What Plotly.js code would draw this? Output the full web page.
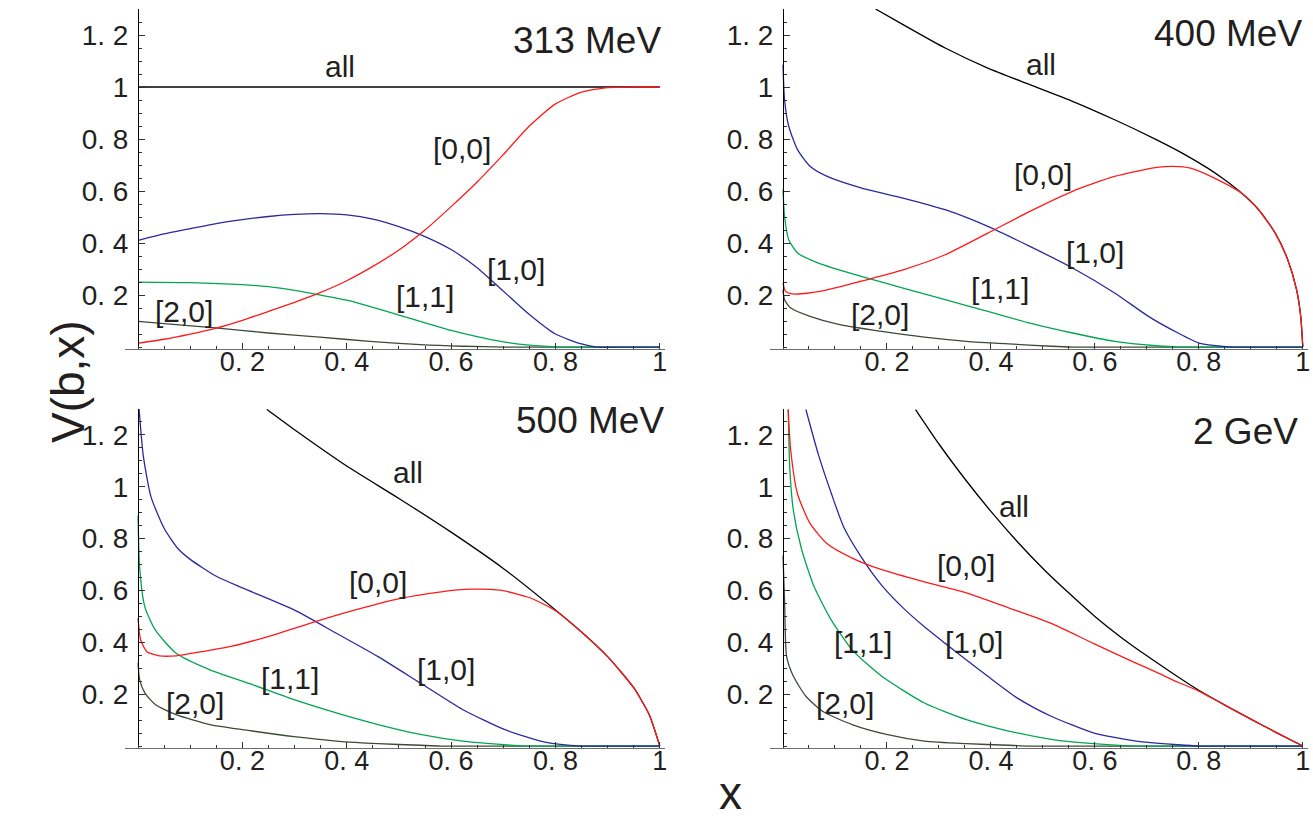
<!DOCTYPE html>
<html>
<head>
<meta charset="utf-8">
<script src="https://cdn.plot.ly/plotly-3.0.1.min.js"></script>
<style>html,body{margin:0;padding:0;background:#fff;}#chart{width:1313px;height:820px;}</style>
</head>
<body>
<div id="chart"></div>
<script>
// ---------- data ----------
// Panel 1: 313 MeV
const x313_all = [0, 0.25, 0.5, 0.75, 1];
const y313_all = [1, 1, 1, 1, 1];
const x313_00 = [0, 0.05, 0.1, 0.15, 0.2, 0.25, 0.3, 0.35, 0.4, 0.45, 0.5, 0.55, 0.6, 0.65, 0.7, 0.75, 0.8, 0.85, 0.9, 0.95, 1];
const y313_00 = [0.015, 0.03, 0.05, 0.073, 0.103, 0.137, 0.172, 0.21, 0.255, 0.31, 0.373, 0.45, 0.54, 0.635, 0.74, 0.85, 0.935, 0.98, 0.998, 1.0, 1.0];
const x313_10 = [0, 0.05, 0.1, 0.15, 0.2, 0.25, 0.3, 0.35, 0.4, 0.45, 0.5, 0.55, 0.6, 0.65, 0.7, 0.75, 0.8, 0.85, 0.88, 0.94, 1];
const y313_10 = [0.41, 0.435, 0.455, 0.475, 0.49, 0.502, 0.51, 0.513, 0.508, 0.492, 0.463, 0.425, 0.375, 0.305, 0.215, 0.125, 0.05, 0.012, 0, 0, 0];
const x313_11 = [0, 0.1, 0.2, 0.25, 0.3, 0.35, 0.4, 0.45, 0.5, 0.55, 0.6, 0.65, 0.7, 0.75, 0.8, 0.82, 0.9, 1];
const y313_11 = [0.25, 0.248, 0.24, 0.232, 0.218, 0.2, 0.18, 0.153, 0.123, 0.093, 0.064, 0.04, 0.02, 0.007, 0.001, 0, 0, 0];
const x313_20 = [0, 0.073, 0.154, 0.25, 0.348, 0.444, 0.541, 0.622, 0.702, 0.85, 1];
const y313_20 = [0.099, 0.086, 0.073, 0.054, 0.038, 0.022, 0.009, 0.003, 0, 0, 0];

// Panel 2: 400 MeV
const x400_all = [0.178, 0.231, 0.312, 0.394, 0.475, 0.557, 0.638, 0.719, 0.768, 0.817, 0.849, 0.882, 0.915, 0.947, 0.971, 0.988, 0.996, 1];
const y400_all = [1.3, 1.24, 1.15, 1.073, 1.009, 0.945, 0.874, 0.797, 0.746, 0.688, 0.644, 0.592, 0.528, 0.438, 0.336, 0.221, 0.118, 0];
const x400_00 = [0, 0.005, 0.015, 0.036, 0.085, 0.15, 0.231, 0.312, 0.394, 0.475, 0.557, 0.638, 0.719, 0.752, 0.784, 0.833, 0.882, 0.915, 0.947, 0.971, 0.988, 0.996, 1];
const y400_00 = [0.246, 0.214, 0.205, 0.205, 0.22, 0.253, 0.297, 0.355, 0.438, 0.522, 0.599, 0.656, 0.691, 0.695, 0.688, 0.647, 0.592, 0.528, 0.438, 0.336, 0.221, 0.118, 0];
const x400_10 = [0, 0.003, 0.011, 0.028, 0.052, 0.085, 0.15, 0.231, 0.312, 0.394, 0.475, 0.557, 0.638, 0.703, 0.76, 0.801, 0.842, 0.866, 0.93, 1];
const y400_10 = [1.086, 0.951, 0.849, 0.759, 0.695, 0.656, 0.612, 0.573, 0.528, 0.464, 0.387, 0.304, 0.208, 0.118, 0.054, 0.015, 0.003, 0, 0, 0];
const x400_11 = [0, 0.003, 0.011, 0.028, 0.068, 0.15, 0.231, 0.312, 0.394, 0.475, 0.557, 0.638, 0.719, 0.76, 0.88, 1];
const y400_11 = [0.605, 0.503, 0.413, 0.362, 0.323, 0.272, 0.227, 0.182, 0.137, 0.092, 0.054, 0.022, 0.005, 0, 0, 0];
const x400_20 = [0, 0.003, 0.015, 0.052, 0.109, 0.19, 0.272, 0.353, 0.434, 0.516, 0.557, 0.78, 1];
const y400_20 = [0.22, 0.182, 0.15, 0.118, 0.086, 0.06, 0.038, 0.022, 0.012, 0.003, 0, 0, 0];

// Panel 3: 500 MeV
const x500_all = [0.247, 0.3, 0.4, 0.5, 0.6, 0.7, 0.8, 0.85, 0.9, 0.95, 0.98, 1];
const y500_all = [1.298, 1.22, 1.08, 0.955, 0.825, 0.685, 0.525, 0.44, 0.345, 0.225, 0.12, 0];
const x500_00 = [0, 0.005, 0.017, 0.041, 0.073, 0.122, 0.178, 0.259, 0.34, 0.42, 0.501, 0.581, 0.638, 0.694, 0.751, 0.8, 0.85, 0.9, 0.95, 0.98, 1];
const y500_00 = [0.492, 0.409, 0.364, 0.348, 0.348, 0.364, 0.384, 0.428, 0.48, 0.527, 0.569, 0.595, 0.605, 0.601, 0.572, 0.522, 0.44, 0.345, 0.225, 0.12, 0];
const x500_10 = [0.002, 0.01, 0.025, 0.05, 0.075, 0.1, 0.15, 0.2, 0.3, 0.38, 0.46, 0.541, 0.622, 0.702, 0.78, 0.85, 0.93, 1];
const y500_10 = [1.3, 1.12, 0.96, 0.84, 0.765, 0.72, 0.655, 0.61, 0.524, 0.435, 0.345, 0.243, 0.141, 0.064, 0.015, 0, 0, 0];
const x500_11 = [0, 0.003, 0.013, 0.033, 0.073, 0.138, 0.219, 0.299, 0.38, 0.46, 0.541, 0.622, 0.702, 0.743, 0.87, 1];
const y500_11 = [0.889, 0.691, 0.537, 0.448, 0.358, 0.294, 0.237, 0.179, 0.128, 0.083, 0.045, 0.019, 0.005, 0, 0, 0];
const x500_20 = [0, 0.003, 0.013, 0.033, 0.073, 0.138, 0.219, 0.299, 0.38, 0.46, 0.541, 0.581, 0.8, 1];
const y500_20 = [0.32, 0.256, 0.205, 0.16, 0.121, 0.083, 0.058, 0.036, 0.019, 0.009, 0.003, 0, 0, 0];

// Panel 4: 2 GeV
const x2g_all = [0.255, 0.3, 0.35, 0.4, 0.45, 0.5, 0.55, 0.6, 0.65, 0.7, 0.75, 0.8, 0.85, 0.9, 0.95, 1];
const y2g_all = [1.298, 1.165, 1.03, 0.905, 0.79, 0.685, 0.59, 0.5, 0.42, 0.348, 0.28, 0.215, 0.158, 0.104, 0.051, 0];
const x2g_00 = [0.01, 0.015, 0.028, 0.052, 0.085, 0.133, 0.19, 0.272, 0.353, 0.434, 0.516, 0.597, 0.679, 0.72, 0.76, 0.8, 0.85, 0.9, 0.95, 1];
const y2g_00 = [1.298, 1.138, 0.972, 0.859, 0.78, 0.725, 0.68, 0.633, 0.591, 0.533, 0.473, 0.396, 0.32, 0.283, 0.246, 0.212, 0.158, 0.104, 0.051, 0];
const x2g_10 = [0.044, 0.068, 0.093, 0.117, 0.15, 0.19, 0.231, 0.272, 0.312, 0.353, 0.394, 0.451, 0.516, 0.597, 0.679, 0.76, 0.801, 0.9, 1];
const y2g_10 = [1.298, 1.125, 0.974, 0.844, 0.731, 0.62, 0.533, 0.46, 0.396, 0.332, 0.269, 0.185, 0.115, 0.051, 0.019, 0.005, 0, 0, 0];
const x2g_11 = [0.01, 0.013, 0.02, 0.036, 0.06, 0.093, 0.133, 0.19, 0.272, 0.353, 0.434, 0.516, 0.597, 0.679, 0.84, 1];
const y2g_11 = [1.298, 1.074, 0.908, 0.757, 0.614, 0.486, 0.371, 0.269, 0.166, 0.102, 0.058, 0.026, 0.009, 0, 0, 0];
const x2g_20 = [0, 0.003, 0.007, 0.02, 0.044, 0.076, 0.133, 0.199, 0.272, 0.353, 0.434, 0.475, 0.74, 1];
const y2g_20 = [0.735, 0.563, 0.345, 0.269, 0.192, 0.134, 0.083, 0.045, 0.019, 0.009, 0.003, 0, 0, 0];

const panelTitles = ["313 MeV", "400 MeV", "500 MeV", "2 GeV"];
const curveNames = ["all", "[0,0]", "[1,0]", "[1,1]", "[2,0]"];
const xTickVals = [0.2, 0.4, 0.6, 0.8, 1];
const xTickText = ["0. 2", "0. 4", "0. 6", "0. 8", "1"];
const yTickVals = [0.2, 0.4, 0.6, 0.8, 1, 1.2];
const yTickText = ["0. 2", "0. 4", "0. 6", "0. 8", "1", "1. 2"];

// label positions per panel [x, y] for all,[0,0],[1,0],[1,1],[2,0]
const lab313 = [[0.387, 1.08], [0.62, 0.762], [0.725, 0.30], [0.55, 0.193], [0.088, 0.138]];
const lab400 = [[0.496, 1.086], [0.5, 0.663], [0.601, 0.362], [0.418, 0.227], [0.186, 0.124]];
const lab500 = [[0.517, 1.055], [0.459, 0.629], [0.591, 0.297], [0.291, 0.262], [0.11, 0.166]];
const lab2g = [[0.444, 0.923], [0.352, 0.696], [0.368, 0.399], [0.154, 0.399], [0.119, 0.166]];
const titlePos = [[0.86, 1.18], [0.857, 1.205], [0.866, 1.255], [0.89, 1.215]];

// ---------- styling ----------
const colors = {all: "#000000", c00: "#ff1a1a", c10: "#2a2a9c", c11: "#00a651", c20: "#3d4a3a"};
const font = "Liberation Sans, Arial, Helvetica, sans-serif";
const txtColor = "#231f20";

const panels = [
  {s: "", xs: [x313_all, x313_00, x313_10, x313_11, x313_20], ys: [y313_all, y313_00, y313_10, y313_11, y313_20], lab: lab313},
  {s: "2", xs: [x400_all, x400_00, x400_10, x400_11, x400_20], ys: [y400_all, y400_00, y400_10, y400_11, y400_20], lab: lab400},
  {s: "3", xs: [x500_all, x500_00, x500_10, x500_11, x500_20], ys: [y500_all, y500_00, y500_10, y500_11, y500_20], lab: lab500},
  {s: "4", xs: [x2g_all, x2g_00, x2g_10, x2g_11, x2g_20], ys: [y2g_all, y2g_00, y2g_10, y2g_11, y2g_20], lab: lab2g}
];
const lineColors = [colors.all, colors.c00, colors.c10, colors.c11, colors.c20];
const drawOrder = [4, 3, 2, 0, 1];

const traces = [];
const annotations = [];
panels.forEach((p, pi) => {
  drawOrder.forEach(ci => {
    traces.push({
      type: "scatter", mode: "lines",
      x: p.xs[ci], y: p.ys[ci],
      xaxis: "x" + p.s, yaxis: "y" + p.s,
      line: {color: lineColors[ci], width: 1.3, shape: "spline", smoothing: 0.6},
      hoverinfo: "skip", showlegend: false
    });
  });
  curveNames.forEach((n, ci) => {
    annotations.push({
      xref: "x" + p.s, yref: "y" + p.s, x: p.lab[ci][0], y: p.lab[ci][1],
      text: n, showarrow: false, font: {family: font, size: 30, color: txtColor}
    });
  });
  annotations.push({
    xref: "x" + p.s, yref: "y" + p.s, x: titlePos[pi][0], y: titlePos[pi][1],
    text: panelTitles[pi], showarrow: false, font: {family: font, size: 37, color: txtColor}
  });
});

annotations.push({xref: "paper", yref: "paper", x: 40 / 1313, y: 1 - 382 / 820, text: "V(b,x)",
  textangle: -90, showarrow: false, font: {family: font, size: 46, color: txtColor}});
annotations.push({xref: "paper", yref: "paper", x: 731 / 1313, y: 0, yanchor: "bottom", yshift: -1, text: "x",
  showarrow: false, font: {family: font, size: 46, color: txtColor}});

function xax(d0, d1, anchor) {
  return {
    domain: [d0 / 1313, d1 / 1313], range: [-0.025, 1.01], anchor: anchor,
    showgrid: false, zeroline: false, showline: true, linecolor: "#6d6d6d", linewidth: 1.5,
    tickmode: "array", tickvals: xTickVals, ticktext: xTickText,
    ticks: "inside", ticklen: 6, tickcolor: "#333", tickwidth: 1,
    minor: {tickmode: "linear", tick0: 0, dtick: 0.05, ticks: "inside", ticklen: 3, tickcolor: "#333", tickwidth: 1, showgrid: false},
    tickfont: {family: font, size: 27, color: txtColor}, ticklabelstandoff: -12,
    fixedrange: true
  };
}
function yax(y0, y1, pos) {
  return {
    domain: [1 - y0 / 820, 1 - y1 / 820], range: [-0.006, 1.3], anchor: "free", position: pos / 1313,
    showgrid: false, zeroline: false, showline: true, linecolor: "#000", linewidth: 1.2,
    tickmode: "array", tickvals: yTickVals, ticktext: yTickText,
    ticks: "inside", ticklen: 6, tickcolor: "#333", tickwidth: 1,
    minor: {tickmode: "linear", tick0: 0, dtick: 0.05, ticks: "inside", ticklen: 3, tickcolor: "#333", tickwidth: 1, showgrid: false},
    tickfont: {family: font, size: 28, color: txtColor}, ticklabelstandoff: 4,
    fixedrange: true
  };
}

const layout = {
  width: 1313, height: 820,
  margin: {l: 0, r: 0, t: 0, b: 0},
  paper_bgcolor: "#fff", plot_bgcolor: "rgba(0,0,0,0)",
  showlegend: false,
  xaxis: xax(125, 665, "y"),
  yaxis: yax(348.6, 9, 138),
  xaxis2: xax(770, 1308, "y2"),
  yaxis2: yax(348.6, 9, 783),
  xaxis3: xax(125, 665, "y3"),
  yaxis3: yax(747.6, 409, 138),
  xaxis4: xax(770, 1308, "y4"),
  yaxis4: yax(747.6, 409, 783),
  annotations: annotations
};

Plotly.newPlot("chart", traces, layout, {staticPlot: true, displayModeBar: false});
</script>
</body>
</html>
